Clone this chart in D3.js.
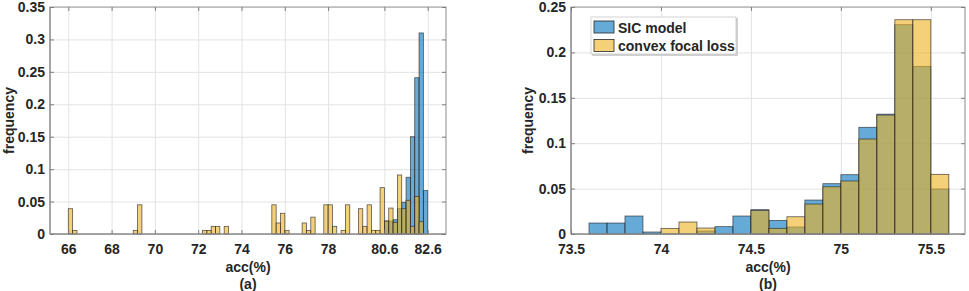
<!DOCTYPE html>
<head>
  <meta charset='utf-8'>
  <title>acc histograms</title>
  <script src="https://cdn.jsdelivr.net/npm/d3@7"></script>
  <style>
    body { margin: 0; background: #fff; }
    svg text {
      font-family: "Liberation Sans", Arial, Helvetica, sans-serif;
      font-weight: bold;
      fill: #262626;
    }
    .tick line { stroke: #7f7f7f; }
    .domain { stroke: none; }
    .grid line { stroke: #e3e3e3; }
  </style>
</head>
<body>
  <div id="chart"></div>
  <script>
    // (a) bins of width 0.2, left edges
    var leftTicks = [66, 68, 70, 72, 74, 76, 78, 80.6, 82.6];
    var leftYTicks = [0, 0.05, 0.1, 0.15, 0.2, 0.25, 0.3, 0.35];
    var leftBinWidth = 0.2;
    var sicLeftBins = [80.6, 80.8, 81.0, 81.2, 81.4, 81.6, 81.8, 82.0, 82.2, 82.4];
    var sicLeftFreq = [0.020, 0.020, 0.022, 0.039, 0.049, 0.0875, 0.150, 0.241, 0.310, 0.067];
    var cflLeftBins = [66.0, 66.2, 69.0, 69.2, 72.2, 72.4, 72.6, 72.8, 73.2,
                       75.4, 75.6, 75.8, 76.0, 76.8, 77.0, 77.2, 77.8, 78.0, 78.2,
                       78.6, 78.8, 79.4, 79.6, 79.8, 80.0, 80.2, 80.4,
                       80.6, 80.8, 81.0, 81.2, 81.4, 81.6, 81.8, 82.0, 82.2];
    var cflLeftFreq = [0.039, 0.0056, 0.0056, 0.045, 0.0056, 0.0056, 0.0118, 0.0118, 0.0118,
                       0.045, 0.017, 0.032, 0.0056, 0.017, 0.0056, 0.026, 0.045, 0.045, 0.0118,
                       0.0056, 0.045, 0.039, 0.0118, 0.045, 0.0056, 0.0056, 0.0715,
                       0.020, 0.040, 0.018, 0.091, 0.039, 0.052, 0.012, 0.058, 0.019];

    // (b) bins of width 0.1, left edges
    var rightTicks = [73.5, 74, 74.5, 75, 75.5];
    var rightYTicks = [0, 0.05, 0.1, 0.15, 0.2, 0.25];
    var rightBinWidth = 0.1;
    var rightBins = [73.6, 73.7, 73.8, 73.9, 74.0, 74.1, 74.2, 74.3, 74.4, 74.5,
                     74.6, 74.7, 74.8, 74.9, 75.0, 75.1, 75.2, 75.3, 75.4, 75.5];
    var sicRightFreq = [0.0121, 0.0121, 0.0198, 0.0022, 0, 0, 0.0033, 0.0081, 0.0198, 0.0268,
                        0.015, 0.0077, 0.0374, 0.0554, 0.0653, 0.1175, 0.132, 0.2305, 0.1846, 0.0496];
    var cflRightFreq = [0, 0, 0, 0, 0.0062, 0.0132, 0.0066, 0, 0, 0.026,
                        0.0062, 0.019, 0.033, 0.052, 0.0584, 0.1046, 0.131, 0.236, 0.236, 0.0657];

    var seriesNames = ["SIC model", "convex focal loss"];
    var seriesColors = ["#0072BD", "#EDB120"];

    var width = 969, height = 291;

    var svg = d3.select("#chart").append("svg")
        .attr("width", width)
        .attr("height", height);

    function panel(opts) {
      var x = d3.scaleLinear().domain(opts.xDomain).range([opts.left, opts.right]);
      var y = d3.scaleLinear().domain(opts.yDomain).range([opts.bottom, opts.top]);
      var g = svg.append("g");

      // grid
      g.append("g").attr("class", "grid")
          .attr("transform", "translate(0," + opts.bottom + ")")
          .call(d3.axisBottom(x).tickValues(opts.xTicks).tickSize(-(opts.bottom - opts.top)).tickFormat(""));
      g.append("g").attr("class", "grid")
          .attr("transform", "translate(" + opts.left + ",0)")
          .call(d3.axisLeft(y).tickValues(opts.yTicks).tickSize(-(opts.right - opts.left)).tickFormat(""));

      // bars, SIC first then convex focal loss on top
      opts.series.forEach(function(s, i) {
        var data = s.bins.map(function(b, j) { return {x0: b, f: s.freq[j]}; })
            .filter(function(d) { return d.f > 0; });
        g.append("g").selectAll("rect")
            .data(data)
          .enter().append("rect")
            .attr("x", function(d) { return x(d.x0); })
            .attr("width", function(d) { return x(d.x0 + opts.binWidth) - x(d.x0); })
            .attr("y", function(d) { return y(d.f); })
            .attr("height", function(d) { return y(0) - y(d.f); })
            .style("fill", seriesColors[i])
            .style("fill-opacity", 0.6)
            .style("stroke", "#262626")
            .style("stroke-opacity", 0.75)
            .style("stroke-width", 0.8);
      });

      // box
      g.append("rect")
          .attr("x", opts.left).attr("y", opts.top)
          .attr("width", opts.right - opts.left).attr("height", opts.bottom - opts.top)
          .style("fill", "none").style("stroke", "#9a9a9a").style("stroke-width", 1);
      g.append("line")
          .attr("x1", opts.right).attr("x2", opts.right)
          .attr("y1", opts.top).attr("y2", opts.bottom)
          .style("stroke", "#c4c4c4").style("stroke-width", 2);
      g.append("line")
          .attr("x1", opts.left).attr("x2", opts.left)
          .attr("y1", opts.top).attr("y2", opts.bottom)
          .style("stroke", "#7f7f7f");
      g.append("line")
          .attr("x1", opts.left).attr("x2", opts.right)
          .attr("y1", opts.bottom).attr("y2", opts.bottom)
          .style("stroke", "#7f7f7f");

      // axes with inward ticks
      var xa = g.append("g")
          .attr("transform", "translate(0," + opts.bottom + ")")
          .call(d3.axisBottom(x).tickValues(opts.xTicks).tickSize(-4).tickPadding(10)
            .tickFormat(function(d) { return d; }));
      xa.selectAll("text").style("font-size", "14px");
      var ya = g.append("g")
          .attr("transform", "translate(" + opts.left + ",0)")
          .call(d3.axisLeft(y).tickValues(opts.yTicks).tickSize(-4).tickPadding(5)
            .tickFormat(function(d) { return d; }));
      ya.selectAll("text").style("font-size", "14px");
      g.append("g")
          .attr("transform", "translate(" + opts.right + ",0)")
          .call(d3.axisRight(y).tickValues(opts.yTicks).tickSize(-4).tickFormat(""));
      g.append("g")
          .attr("transform", "translate(0," + opts.top + ")")
          .call(d3.axisTop(x).tickValues(opts.xTicks).tickSize(-4).tickFormat(""));

      // labels
      var cx = (opts.left + opts.right) / 2;
      g.append("text")
          .attr("x", cx).attr("y", 272)
          .attr("text-anchor", "middle")
          .style("font-size", "14px")
          .text("acc(%)");
      g.append("text")
          .attr("x", cx).attr("y", 289)
          .attr("text-anchor", "middle")
          .style("font-size", "14px")
          .text(opts.caption);
      g.append("text")
          .attr("transform", "translate(" + opts.yLabelX + "," + ((opts.top + opts.bottom) / 2) + ") rotate(-90)")
          .attr("text-anchor", "middle")
          .style("font-size", "14px")
          .text("frequency");

      return {x: x, y: y, g: g};
    }

    panel({
      left: 50, right: 446, top: 7, bottom: 234,
      xDomain: [65.155, 83.445], yDomain: [0, 0.35],
      xTicks: leftTicks, yTicks: leftYTicks, binWidth: leftBinWidth,
      yLabelX: 14, caption: "(a)",
      series: [
        {bins: sicLeftBins, freq: sicLeftFreq},
        {bins: cflLeftBins, freq: cflLeftFreq}
      ]
    });

    var pb = panel({
      left: 571, right: 965, top: 7, bottom: 234,
      xDomain: [73.5, 75.69], yDomain: [0, 0.25],
      xTicks: rightTicks, yTicks: rightYTicks, binWidth: rightBinWidth,
      yLabelX: 533, caption: "(b)",
      series: [
        {bins: rightBins, freq: sicRightFreq},
        {bins: rightBins, freq: cflRightFreq}
      ]
    });

    // legend
    var leg = pb.g.append("g").attr("transform", "translate(591,17)");
    leg.append("rect")
        .attr("x", 1).attr("y", 1).attr("width", 146).attr("height", 38)
        .style("fill", "#d0d0d0");
    leg.append("rect")
        .attr("width", 145).attr("height", 37)
        .style("fill", "#fff").style("stroke", "#c8c8c8").style("stroke-width", 0.8);
    seriesNames.forEach(function(name, i) {
      leg.append("rect")
          .attr("x", 3).attr("y", 4 + i * 18.5)
          .attr("width", 20).attr("height", 12)
          .style("fill", seriesColors[i]).style("fill-opacity", 0.6)
          .style("stroke", "#262626").style("stroke-width", 0.8);
      leg.append("text")
          .attr("x", 27).attr("y", 15.5 + i * 18.5)
          .style("font-size", "14px")
          .text(name);
    });
  </script>
</body>
